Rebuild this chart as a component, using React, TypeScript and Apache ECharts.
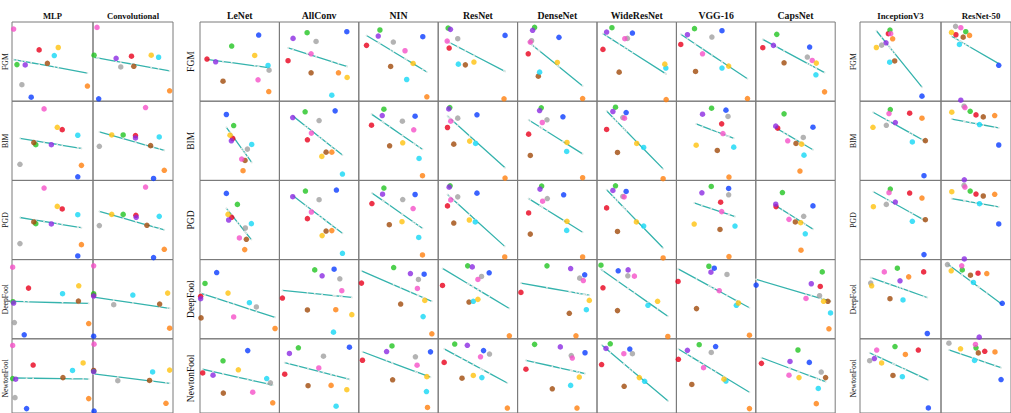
import React, { useEffect, useRef } from 'react';
import * as echarts from 'echarts';

type Pt = [number, number];

// Rows of every panel: one attack per row.
const ATTACKS = ['FGM', 'BIM', 'PGD', 'DeepFool', 'NewtonFool'];

// Marker colours; each point list below follows this order:
// red, green, purple, gray, blue, orange, brown, pink, cyan, yellow
const COLORS = ['#e8001c', '#22c422', '#8b2be2', '#a0a0a0', '#0a3cff', '#ff7f0e', '#a04a0a', '#f550c8', '#14d7f5', '#ffc20e'];
const FIT_COLOR = '#35b3ad';

// Per model: five rows (attacks) of ten [x, y] points, both in 0..100.
const MLP: Pt[][] = [
  [[33.5, 64.8], [6.1, 46.2], [16.3, 45.8], [12.2, 20.8], [23.7, 5.1], [93.1, 19.1], [43.7, 47.9], [2.0, 91.1], [52.2, 57.6], [57.1, 67.8]],
  [[62.0, 64.1], [29.4, 45.1], [48.6, 45.1], [9.8, 20.3], [81.2, 4.6], [85.7, 19.0], [26.9, 47.7], [39.6, 90.3], [81.2, 57.0], [55.9, 67.1]],
  [[62.0, 63.9], [29.4, 45.4], [48.6, 45.0], [9.8, 20.2], [81.2, 4.6], [85.7, 18.9], [26.9, 47.5], [39.6, 90.3], [81.2, 56.7], [55.9, 67.2]],
  [[20.4, 64.0], [1.2, 46.9], [2.0, 45.2], [2.9, 20.5], [15.1, 5.0], [94.7, 19.2], [82.0, 47.7], [0.8, 90.4], [62.4, 56.9], [82.4, 66.9]],
  [[26.1, 64.6], [0.8, 46.4], [4.5, 45.6], [3.7, 20.7], [18.0, 5.9], [94.7, 19.4], [62.9, 47.7], [0.8, 91.1], [74.7, 57.4], [87.8, 67.5]],
];
const CONVOLUTIONAL: Pt[][] = [
  [[48.1, 56.8], [1.3, 58.1], [28.9, 54.2], [34.7, 43.2], [7.1, 3.0], [95.8, 13.1], [51.0, 44.1], [5.0, 93.2], [82.0, 55.5], [72.8, 58.1]],
  [[53.1, 56.5], [37.7, 57.4], [53.1, 53.6], [7.9, 43.0], [75.7, 2.5], [89.1, 12.7], [72.0, 43.9], [65.7, 92.0], [82.8, 54.9], [23.4, 57.4]],
  [[53.6, 55.9], [37.7, 57.1], [54.0, 53.4], [7.9, 42.9], [75.7, 2.5], [89.1, 13.0], [67.4, 43.3], [65.7, 91.6], [82.8, 54.6], [23.4, 57.1]],
  [[0.8, 55.2], [0.8, 56.9], [0.8, 54.0], [25.9, 43.1], [0.8, 3.3], [95.8, 13.4], [83.3, 43.9], [0.8, 92.1], [49.8, 55.2], [93.3, 57.7]],
  [[0.8, 57.4], [0.8, 56.5], [0.8, 55.7], [31.0, 43.5], [1.3, 2.5], [91.2, 13.1], [70.7, 43.9], [1.3, 92.8], [74.5, 55.3], [95.8, 57.8]],
];
const LENET: Pt[][] = [
  [[8.8, 53.2], [39.9, 69.6], [19.7, 49.8], [87.0, 39.2], [73.9, 83.5], [86.6, 12.2], [29.0, 25.3], [73.1, 27.0], [85.7, 45.1], [68.9, 57.8]],
  [[41.2, 52.9], [42.4, 69.3], [39.5, 50.0], [59.7, 39.5], [33.2, 83.2], [54.2, 12.2], [56.7, 25.2], [52.5, 26.9], [65.1, 45.4], [37.8, 57.1]],
  [[39.9, 53.4], [47.1, 69.7], [36.1, 50.0], [57.1, 39.9], [33.2, 83.6], [56.3, 12.6], [58.4, 25.6], [49.6, 27.3], [64.7, 45.4], [35.3, 57.1]],
  [[0.8, 53.6], [6.3, 69.9], [0.8, 50.6], [71.0, 40.2], [21.0, 83.7], [94.5, 13.0], [1.3, 26.4], [42.4, 27.6], [62.2, 45.6], [35.3, 57.7]],
  [[3.4, 54.0], [29.0, 70.3], [16.4, 51.0], [88.7, 40.6], [60.1, 84.1], [91.6, 13.8], [29.4, 26.8], [66.4, 28.0], [84.0, 46.4], [48.3, 58.2]],
];
const ALLCONV: Pt[][] = [
  [[10.9, 51.1], [34.9, 86.5], [17.2, 79.3], [46.2, 75.5], [84.9, 87.8], [74.4, 35.9], [39.9, 35.9], [39.9, 59.9], [66.0, 7.6], [85.3, 30.0]],
  [[35.3, 51.3], [32.4, 86.6], [16.8, 79.4], [50.0, 75.6], [70.2, 87.8], [66.0, 35.7], [58.8, 35.7], [40.3, 59.7], [79.4, 8.0], [53.4, 30.3]],
  [[35.3, 51.7], [32.8, 86.6], [16.8, 79.4], [50.0, 75.6], [71.8, 87.8], [66.0, 36.6], [58.8, 36.1], [40.3, 60.1], [79.4, 8.0], [53.8, 30.3]],
  [[3.8, 51.5], [44.5, 87.0], [53.8, 79.5], [76.1, 75.7], [68.9, 87.9], [71.0, 36.8], [35.3, 36.4], [78.6, 60.7], [68.1, 8.4], [91.2, 30.5]],
  [[6.7, 52.3], [23.9, 87.9], [12.6, 80.3], [55.5, 76.6], [88.2, 88.7], [65.1, 37.2], [36.1, 36.8], [49.6, 60.7], [71.4, 9.2], [84.9, 31.4]],
];
const NIN: Pt[][] = [
  [[9.7, 70.5], [26.6, 89.9], [24.5, 82.3], [43.5, 74.7], [80.6, 81.4], [85.7, 5.5], [40.1, 43.9], [58.2, 63.7], [60.3, 27.4], [68.4, 47.7]],
  [[16.0, 69.7], [31.6, 89.9], [29.5, 81.9], [54.9, 74.8], [70.9, 81.1], [80.2, 5.9], [38.8, 43.7], [69.2, 63.9], [75.9, 27.7], [55.3, 47.5]],
  [[16.5, 70.8], [31.6, 90.3], [29.9, 82.6], [55.3, 75.8], [70.9, 82.2], [80.2, 5.9], [38.4, 44.1], [68.4, 64.4], [75.5, 28.0], [54.4, 47.9]],
  [[3.4, 70.3], [43.9, 90.0], [65.0, 82.4], [75.1, 74.9], [82.3, 81.6], [92.0, 6.3], [52.7, 43.9], [73.8, 63.6], [81.0, 28.0], [83.1, 48.5]],
  [[4.6, 71.1], [41.8, 90.4], [35.0, 82.8], [71.3, 75.7], [90.3, 82.4], [86.5, 7.5], [42.6, 44.8], [73.4, 64.4], [85.2, 28.9], [85.7, 49.0]],
];
const RESNET: Pt[][] = [
  [[13.8, 67.1], [12.5, 92.4], [15.4, 90.7], [24.6, 78.9], [84.2, 83.1], [82.9, 3.0], [34.2, 45.9], [11.3, 75.9], [25.4, 46.8], [45.0, 49.4]],
  [[11.7, 66.8], [14.6, 92.0], [13.3, 90.3], [24.6, 78.6], [48.8, 82.8], [84.2, 2.9], [19.6, 45.8], [15.8, 74.8], [47.1, 46.6], [39.6, 49.6]],
  [[11.7, 67.8], [15.0, 93.2], [13.8, 91.5], [24.6, 79.2], [48.8, 83.9], [83.8, 3.4], [19.6, 46.2], [15.8, 75.4], [46.7, 47.5], [39.2, 50.0]],
  [[5.4, 67.4], [37.1, 92.1], [42.9, 90.8], [54.6, 78.7], [64.2, 83.3], [89.6, 3.8], [38.8, 46.4], [50.0, 74.9], [44.2, 47.3], [50.0, 49.8]],
  [[7.5, 68.2], [20.8, 92.9], [36.7, 91.2], [64.6, 79.5], [57.1, 84.1], [87.1, 6.7], [30.0, 46.9], [53.3, 75.7], [55.0, 47.7], [44.2, 50.6]],
];
const DENSENET: Pt[][] = [
  [[13.4, 59.9], [21.4, 93.2], [18.9, 89.5], [17.6, 76.4], [52.1, 80.6], [81.9, 3.4], [26.1, 31.6], [16.0, 74.7], [27.7, 36.7], [50.0, 48.9]],
  [[13.9, 58.4], [29.8, 91.6], [27.7, 88.2], [37.0, 76.5], [57.1, 80.3], [81.9, 3.4], [16.0, 31.5], [31.1, 73.1], [61.8, 36.6], [62.2, 47.9]],
  [[13.9, 58.9], [30.3, 92.8], [28.2, 89.0], [37.4, 77.1], [58.0, 81.8], [81.9, 3.4], [16.0, 32.2], [31.5, 73.7], [61.8, 36.9], [62.2, 48.3]],
  [[4.2, 58.6], [37.0, 92.1], [66.8, 88.7], [78.2, 76.6], [84.5, 80.8], [73.5, 3.8], [65.1, 32.2], [82.8, 73.6], [86.6, 36.8], [90.3, 48.5]],
  [[10.5, 59.0], [21.4, 92.5], [53.8, 89.1], [67.6, 77.4], [84.9, 81.2], [74.8, 6.7], [43.7, 32.6], [68.9, 74.1], [66.8, 37.2], [77.7, 48.5]],
];
const WIDERESNET: Pt[][] = [
  [[7.5, 65.4], [18.8, 92.8], [12.1, 87.3], [38.3, 79.3], [44.6, 86.1], [87.1, 2.1], [27.9, 36.7], [35.0, 78.9], [86.7, 41.8], [85.4, 46.8]],
  [[12.1, 64.3], [23.3, 92.4], [20.0, 87.0], [32.5, 79.4], [36.7, 85.7], [83.3, 2.1], [25.8, 35.3], [34.6, 78.6], [58.8, 41.6], [50.0, 46.6]],
  [[12.1, 65.3], [23.3, 93.2], [20.0, 87.3], [32.5, 79.7], [36.7, 86.0], [83.3, 2.1], [25.8, 35.6], [34.2, 79.2], [58.8, 42.4], [49.6, 47.5]],
  [[7.5, 64.4], [5.0, 92.9], [39.2, 87.0], [38.8, 79.5], [26.7, 85.8], [89.2, 2.9], [25.8, 35.6], [47.1, 79.1], [64.2, 42.3], [76.3, 47.3]],
  [[5.8, 65.3], [16.7, 93.3], [11.3, 87.0], [44.6, 79.9], [41.3, 86.2], [89.6, -1.0], [34.2, 36.0], [33.8, 79.9], [60.0, 42.7], [53.3, 47.7]],
];
const VGG16: Pt[][] = [
  [[5.5, 71.7], [22.8, 91.6], [13.9, 84.0], [44.7, 81.0], [57.4, 89.0], [89.5, 3.4], [24.1, 37.6], [32.9, 59.9], [57.4, 41.8], [65.8, 44.3]],
  [[57.0, 71.4], [44.3, 91.2], [32.9, 83.6], [65.0, 80.7], [62.4, 88.7], [66.2, 4.2], [51.5, 37.8], [58.6, 59.2], [72.2, 42.0], [24.9, 44.5]],
  [[55.7, 72.5], [43.9, 92.4], [32.1, 84.3], [65.8, 81.8], [65.8, 89.8], [66.2, 3.8], [54.9, 38.1], [57.0, 60.6], [73.8, 42.4], [22.4, 44.9]],
  [[2.1, 72.4], [40.9, 91.6], [43.5, 84.1], [63.7, 81.2], [47.7, 89.1], [92.0, 4.6], [25.3, 38.1], [54.0, 60.7], [75.5, 42.3], [78.1, 45.2]],
  [[2.5, 72.4], [28.7, 92.1], [13.9, 84.5], [43.9, 81.6], [49.4, 89.5], [92.0, 5.9], [19.4, 38.5], [34.2, 61.1], [62.4, 43.1], [59.9, 45.6]],
];
const CAPSNET: Pt[][] = [
  [[8.8, 67.5], [26.4, 84.4], [22.2, 70.5], [64.9, 55.7], [67.8, 68.4], [86.6, 11.8], [35.6, 48.5], [71.1, 51.5], [75.7, 33.3], [76.2, 48.1]],
  [[27.6, 66.0], [35.6, 84.0], [25.1, 68.5], [59.8, 54.2], [72.0, 67.2], [55.6, 11.8], [50.6, 46.6], [40.2, 50.0], [60.7, 31.9], [57.7, 45.8]],
  [[25.5, 66.9], [33.5, 84.7], [25.1, 69.9], [60.3, 54.7], [72.0, 67.8], [56.9, 11.9], [49.8, 47.5], [41.8, 50.8], [62.3, 32.6], [56.5, 46.6]],
  [[81.2, 66.1], [83.7, 84.5], [69.9, 69.5], [80.3, 54.4], [0.4, 67.8], [92.1, 12.6], [90.8, 47.3], [63.2, 51.0], [94.1, 32.6], [85.4, 47.3]],
  [[7.1, 66.9], [53.1, 84.9], [43.1, 69.5], [82.4, 55.2], [67.4, 68.2], [76.2, 12.6], [87.9, 47.7], [41.8, 51.0], [78.7, 33.1], [54.4, 47.7]],
];
const INCEPTIONV3: Pt[][] = [
  [[35.0, 85.2], [37.0, 89.8], [32.1, 73.7], [26.7, 70.8], [76.5, 6.4], [40.3, 78.8], [42.8, 50.8], [37.9, 85.2], [36.6, 49.2], [20.2, 67.8]],
  [[61.3, 84.8], [37.4, 89.5], [43.6, 73.0], [32.5, 69.6], [79.0, 5.9], [76.5, 78.5], [80.7, 50.2], [35.8, 84.4], [64.6, 48.5], [16.0, 67.1]],
  [[61.3, 84.0], [37.4, 89.1], [43.6, 72.7], [32.5, 69.7], [79.0, 6.3], [76.5, 77.7], [80.7, 50.4], [35.8, 84.5], [64.6, 48.3], [16.5, 66.8]],
  [[78.6, 84.5], [46.1, 89.1], [49.4, 73.2], [13.2, 70.3], [83.1, 6.7], [60.1, 78.2], [37.0, 50.6], [30.0, 84.5], [53.1, 49.0], [14.4, 66.9]],
  [[72.0, 84.8], [43.2, 89.5], [17.7, 73.4], [11.9, 70.5], [84.4, 6.8], [56.0, 78.9], [40.7, 50.6], [20.6, 84.8], [52.3, 48.9], [26.7, 67.5]],
];
const RESNET50: Pt[][] = [
  [[21.3, 83.9], [35.4, 87.7], [28.3, 1.3], [20.8, 94.5], [82.5, 45.3], [40.8, 83.1], [31.7, 80.9], [28.3, 92.8], [26.3, 71.6], [15.0, 86.9]],
  [[50.0, 82.7], [41.7, 87.3], [33.3, 0.8], [32.9, 93.7], [82.5, 44.7], [76.7, 81.9], [60.4, 80.2], [34.2, 92.0], [55.0, 70.5], [15.4, 86.1]],
  [[50.0, 82.8], [41.7, 86.6], [33.3, 0.8], [32.9, 93.7], [82.5, 45.0], [76.7, 82.4], [60.4, 80.3], [34.2, 91.6], [55.0, 70.6], [15.4, 85.7]],
  [[52.9, 82.8], [30.4, 87.0], [54.6, 2.1], [9.2, 93.7], [87.5, 44.8], [65.4, 82.4], [42.1, 80.3], [29.6, 92.1], [46.3, 71.1], [14.6, 85.8]],
  [[62.5, 83.1], [50.0, 87.8], [45.0, -1.0], [11.3, 94.1], [85.8, 45.1], [77.1, 82.3], [53.3, 81.0], [49.2, 92.4], [47.9, 70.9], [27.9, 86.5]],
];

type Column = { name: string; data: Pt[][]; left: number; width: number; titleSize: number };

const MID_NAMES = ['LeNet', 'AllConv', 'NIN', 'ResNet', 'DenseNet', 'WideResNet', 'VGG-16', 'CapsNet'];
const MID_DATA = [LENET, ALLCONV, NIN, RESNET, DENSENET, WIDERESNET, VGG16, CAPSNET];

const COLUMNS: Column[] = [
  { name: 'MLP', data: MLP, left: 12, width: 81, titleSize: 8.6 },
  { name: 'Convolutional', data: CONVOLUTIONAL, left: 93, width: 80, titleSize: 8.6 },
  ...MID_NAMES.map((name, i) => ({ name, data: MID_DATA[i], left: 200 + i * 79.4, width: 79.4, titleSize: 9.8 })),
  { name: 'InceptionV3', data: INCEPTIONV3, left: 860, width: 81, titleSize: 8.8 },
  { name: 'ResNet-50', data: RESNET50, left: 941, width: 80, titleSize: 8.8 },
];

const ROW_TOP = 22;
const ROW_H = 79.2;
const ROW_LABEL_X = [{ x: 5.5, size: 7.7 }, { x: 191, size: 9.5 }, { x: 853.5, size: 7.7 }];

// Ordinary least-squares line y = a + b x, sampled at each point's x.
function fitLine(pts: Pt[]): Pt[] {
  const n = pts.length;
  const mx = pts.reduce((s, p) => s + p[0], 0) / n;
  const my = pts.reduce((s, p) => s + p[1], 0) / n;
  let sxy = 0;
  let sxx = 0;
  pts.forEach(([x, y]) => {
    sxy += (x - mx) * (y - my);
    sxx += (x - mx) * (x - mx);
  });
  const b = sxx === 0 ? 0 : sxy / sxx;
  const a = my - b * mx;
  return pts.map((p) => p[0]).sort((u, v) => u - v).map((x) => [x, a + b * x] as Pt);
}

function buildOption(): echarts.EChartsCoreOption {
  const grid: any[] = [];
  const xAxis: any[] = [];
  const yAxis: any[] = [];
  const series: any[] = [];
  const graphic: any[] = [];
  const serif = '"Liberation Serif", "DejaVu Serif", serif';

  COLUMNS.forEach((col) => {
    graphic.push({
      type: 'text',
      x: col.left + col.width / 2,
      y: 15.5,
      silent: true,
      style: {
        text: col.name,
        font: `bold ${col.titleSize}px ${serif}`,
        fill: '#111',
        align: 'center',
        verticalAlign: 'middle',
      },
    });
    col.data.forEach((pts, r) => {
      const idx = grid.length;
      grid.push({
        left: col.left,
        top: ROW_TOP + r * ROW_H,
        width: col.width,
        height: ROW_H,
        show: true,
        borderColor: '#7a7a7a',
        borderWidth: 1,
        backgroundColor: 'transparent',
        containLabel: false,
      });
      xAxis.push({ type: 'value', gridIndex: idx, min: 0, max: 100, show: false });
      yAxis.push({ type: 'value', gridIndex: idx, min: 0, max: 100, show: false });
      series.push({
        type: 'line',
        xAxisIndex: idx,
        yAxisIndex: idx,
        z: 2,
        symbol: 'circle',
        symbolSize: 1.8,
        showSymbol: true,
        itemStyle: { color: '#dfe7e5' },
        lineStyle: { color: FIT_COLOR, width: 1.3 },
        data: fitLine(pts),
      });
      series.push({
        type: 'scatter',
        xAxisIndex: idx,
        yAxisIndex: idx,
        symbolSize: 5.5,
        z: 3,
        data: pts.map((p, i) => ({ value: p, itemStyle: { color: COLORS[i] } })),
      });
    });
  });

  ROW_LABEL_X.forEach((lab) => {
    ATTACKS.forEach((name, r) => {
      graphic.push({
        type: 'text',
        x: lab.x,
        y: ROW_TOP + r * ROW_H + ROW_H / 2,
        rotation: Math.PI / 2,
        silent: true,
        style: {
          text: name,
          font: `${lab.size}px ${serif}`,
          fill: '#111',
          align: 'center',
          verticalAlign: 'middle',
        },
      });
    });
  });

  return {
    animation: false,
    backgroundColor: '#ffffff',
    grid,
    xAxis,
    yAxis,
    series,
    graphic,
  };
}

export default function App() {
  const ref = useRef<HTMLDivElement>(null);
  useEffect(() => {
    if (!ref.current) return;
    const chart = echarts.init(ref.current, undefined, { renderer: 'svg' });
    chart.setOption(buildOption());
    return () => chart.dispose();
  }, []);
  return <div ref={ref} style={{ position: 'fixed', left: 0, top: 0, width: 1011, height: 413 }} />;
}
